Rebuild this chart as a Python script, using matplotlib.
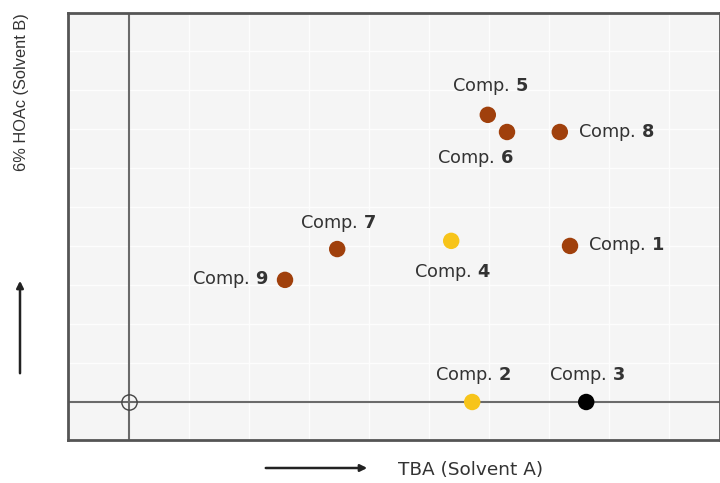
import matplotlib
matplotlib.use("Agg")
import matplotlib.pyplot as plt

plt.rcParams['font.family'] = ['DejaVu Sans']
plt.rcParams['mathtext.fontset'] = 'custom'
plt.rcParams['mathtext.rm'] = 'DejaVu Sans'
plt.rcParams['mathtext.bf'] = 'DejaVu Sans:bold'

# Data
compounds = ["1", "2", "3", "4", "5", "6", "7", "8", "9"]
solvent_a = [7.35, 5.72, 7.62, 5.37, 5.98, 6.30, 3.47, 7.18, 2.60]
solvent_b = [4.00, 0.00, 0.00, 4.13, 7.36, 6.92, 3.92, 6.92, 3.13]
groups = ["brown", "yellow", "black", "yellow", "brown", "brown", "brown", "brown", "brown"]

colors = {"brown": "#a0400c", "yellow": "#f7c41a", "black": "#000000"}
# label placement (pixel offsets, alignment)
label_style = {
    "1": (18, 0, "left", "center"),
    "2": (1, 26, "center", "center"),
    "3": (1, 26, "center", "center"),
    "4": (1, -32, "center", "center"),
    "5": (2, 28, "center", "center"),
    "6": (-32, -26, "center", "center"),
    "7": (1, 26, "center", "center"),
    "8": (18, 0, "left", "center"),
    "9": (-17, 0, "right", "center"),
}

fig = plt.figure(figsize=(7.2, 4.83), dpi=100)
fig.patch.set_facecolor("white")
ax = fig.add_axes([68/720, 43/483, 652/720, 427/483])
ax.set_facecolor("#f5f5f5")
ax.set_xlim(-1.017, 9.85)
ax.set_ylim(-0.974, 9.97)

for x in range(1, 11):
    ax.axvline(x, color="#fdfdfd", lw=1.0, zorder=0)
for y in range(1, 11):
    ax.axhline(y, color="#fdfdfd", lw=1.0, zorder=0)

ax.axvline(0, color="#6a6a6a", lw=1.5, zorder=1)
ax.axhline(0, color="#6a6a6a", lw=1.5, zorder=1)
ax.plot([0], [0], marker="o", markersize=11, markerfacecolor="none",
        markeredgecolor="#444444", markeredgewidth=1.0, zorder=2)

for spine in ax.spines.values():
    spine.set_color("#555555")
    spine.set_linewidth(2)
ax.set_xticks([])
ax.set_yticks([])

for c, xa, yb, g in zip(compounds, solvent_a, solvent_b, groups):
    ax.scatter([xa], [yb], s=140, color=colors[g], zorder=3, edgecolors="none")
    dx, dy, ha, va = label_style[c]
    ax.annotate(r"Comp. $\mathbf{" + c + "}$", (xa, yb), xytext=(dx, dy),
                textcoords="offset pixels", ha=ha, va=va, fontsize=12.8,
                color="#333333", zorder=4)

# axis labels with arrows
fig.text(22/720, 1 - 92/483, "6% HOAc (Solvent B)", rotation=90, ha="center",
         va="center", fontsize=11.8, color="#333333", family="Liberation Sans")
fig.text(398/720, 1 - 470/483, "TBA (Solvent A)", ha="left", va="center",
         fontsize=13.3, color="#333333")
fig.add_artist(matplotlib.patches.FancyArrowPatch(
    (20/720, 1 - 376/483), (20/720, 1 - 278/483), transform=fig.transFigure,
    arrowstyle="-|>", mutation_scale=10, color="#222222", lw=1.8))
fig.add_artist(matplotlib.patches.FancyArrowPatch(
    (263/720, 1 - 468/483), (370/720, 1 - 468/483), transform=fig.transFigure,
    arrowstyle="-|>", mutation_scale=10, color="#222222", lw=1.8))

fig.savefig("out.png", dpi=100)
